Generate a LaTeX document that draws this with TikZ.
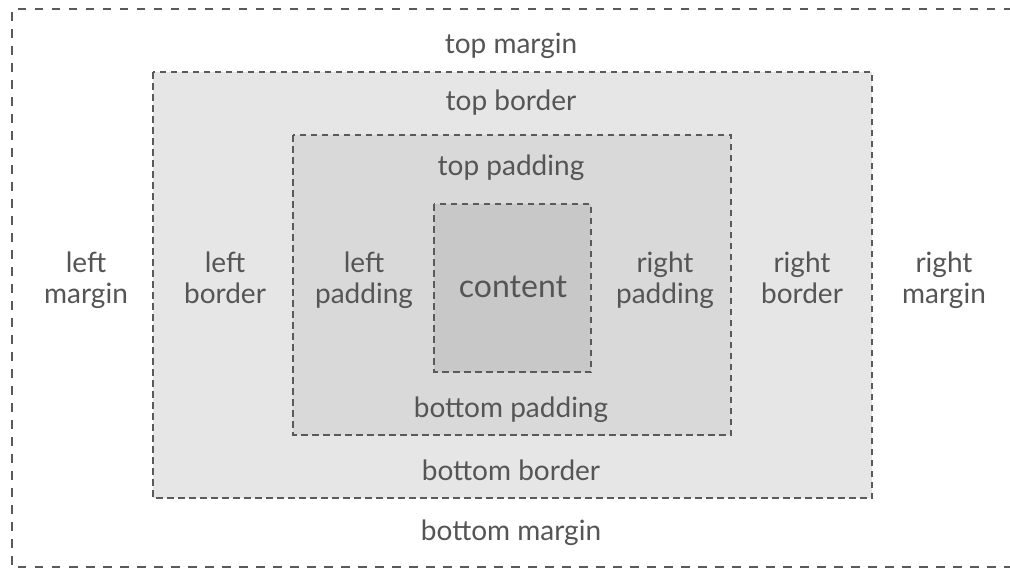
\documentclass[tikz,border=0pt]{standalone}
\usepackage{fontspec}
\setmainfont{Lato}
\definecolor{txt}{HTML}{555555}
\definecolor{dashc}{HTML}{5A5A5A}
\definecolor{borderfill}{HTML}{E6E6E6}
\definecolor{padfill}{HTML}{D9D9D9}
\definecolor{contfill}{HTML}{C8C8C8}
\begin{document}
\begin{tikzpicture}[x=1pt,y=-1pt,
  lbl/.style={text=txt,font=\fontsize{28}{31}\selectfont,align=center,inner sep=0pt,anchor=base},
  innerdash/.style={draw=dashc,line width=2.6pt,dash pattern=on 6.5pt off 4.5pt},
  outerdash/.style={draw=dashc,line width=2.6pt,dash pattern=on 8.5pt off 8.5pt}]
\useasboundingbox (0,0) rectangle (1010,571);
\fill[white] (0,0) rectangle (1010,571);
% outer (margin) box, right side open
\coordinate (otr) at (1012,9);
\coordinate (otl) at (12,9);
\coordinate (obl) at (12,567);
\coordinate (obr) at (1012,567);
\draw[outerdash] (otr) -- (otl) -- (obl) -- (obr);
% border box
\path[fill=borderfill,innerdash] (153,72) rectangle (872,498);
% padding box
\path[fill=padfill,innerdash] (293,135) rectangle (731,435);
% content box
\path[fill=contfill,innerdash] (434,204) rectangle (591,372);
% labels
\node[lbl] (tm) at (511,53) {top margin};
\node[lbl] (tb) at (511,110) {top border};
\node[lbl] (tp) at (511,175) {top padding};
\node[lbl,font=\fontsize{32}{34}\selectfont] (ct) at (513,297) {content};
\node[lbl] (bp) at (511,417) {bottom padding};
\node[lbl] (bb) at (511,480) {bottom border};
\node[lbl] (bm) at (511,540) {bottom margin};
\node[lbl] (lm) at (86,303) {left\\margin};
\node[lbl] (lb) at (225,303) {left\\border};
\node[lbl] (lp) at (364,303) {left\\padding};
\node[lbl] (rp) at (665,303) {right\\padding};
\node[lbl] (rb) at (802,303) {right\\border};
\node[lbl] (rm) at (944,303) {right\\margin};
\end{tikzpicture}
\end{document}
